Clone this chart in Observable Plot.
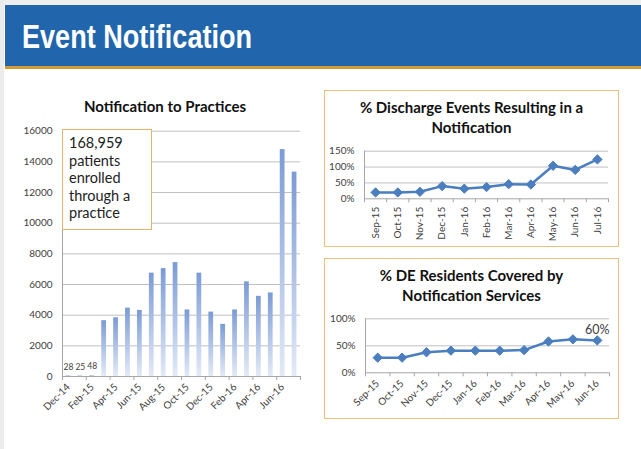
<!DOCTYPE html>
<html><head><meta charset="utf-8">
<script src="https://cdn.jsdelivr.net/npm/d3@7"></script>
<script src="https://cdn.jsdelivr.net/npm/@observablehq/plot@0.6"></script>
<style>
html,body{margin:0;padding:0;}
body{background:#fff;width:641px;height:449px;overflow:hidden;position:relative;font-family:Lato,"Liberation Sans",sans-serif;}
.abs{position:absolute;}
#stripL{left:0;top:0;width:4px;height:449px;background:#ececec;}
#stripT{left:0;top:0;width:641px;height:5px;background:#efefef;}
#header{left:5px;top:5px;width:636px;height:61px;background:#2166ac;}
#gold{left:5px;top:66px;width:636px;height:3px;background:#d09a35;}
#title{left:22px;top:20px;font-family:"Liberation Sans",sans-serif;font-weight:bold;font-size:33px;line-height:33px;color:#fff;white-space:nowrap;transform:scaleX(0.82);transform-origin:0 0;}
.ctitle{font-weight:bold;font-size:15px;line-height:19.5px;color:#111;text-align:center;white-space:nowrap;}
#t1{left:40px;top:97px;width:250px;}
.box{border:1.5px solid #e9c27a;box-sizing:border-box;background:#fff;}
#box2{left:324px;top:90px;width:295px;height:157px;}
#box3{left:324px;top:258px;width:295px;height:161px;}
#t2{left:324px;top:98px;width:295px;}
#t3{left:324px;top:266px;width:295px;}
#note{left:62px;top:129px;width:90px;height:101px;border:1px solid #e6b56a;box-sizing:border-box;background:#fff;padding:4px 0 0 6px;font-size:14.5px;line-height:17.5px;color:#222;}
</style></head><body>
<div class="abs" id="stripT"></div>
<div class="abs" id="stripL"></div>
<div class="abs" id="header"></div>
<div class="abs" id="gold"></div>
<div class="abs" id="title">Event Notification</div>
<div class="abs" id="c1"></div>
<div class="abs ctitle" id="t1">Notification to Practices</div>
<div class="abs" id="note">168,959<br>patients<br>enrolled<br>through a<br>practice</div>
<div class="abs box" id="box2"></div>
<div class="abs box" id="box3"></div>
<div class="abs ctitle" id="t2">% Discharge Events Resulting in a<br>Notification</div>
<div class="abs ctitle" id="t3">% DE Residents Covered by<br>Notification Services</div>
<div class="abs" id="c2"></div>
<div class="abs" id="c3"></div>
<script>
// ---- Data ----
const practiceMonths = ["Dec-14","Jan-15","Feb-15","Mar-15","Apr-15","May-15","Jun-15","Jul-15","Aug-15","Sep-15","Oct-15","Nov-15","Dec-15","Jan-16","Feb-16","Mar-16","Apr-16","May-16","Jun-16","Jul-16"];
const practiceCounts = [28,25,48,3640,3830,4460,4310,6740,7040,7430,4340,6740,4200,3400,4340,6170,5230,5450,14800,13330];
const practiceTickLabels = ["Dec-14","Feb-15","Apr-15","Jun-15","Aug-15","Oct-15","Dec-15","Feb-16","Apr-16","Jun-16"];
const practiceYTicks = [0,2000,4000,6000,8000,10000,12000,14000,16000];
const practiceLabelled = ["Dec-14","Jan-15","Feb-15"];

const dischargeMonths = ["Sep-15","Oct-15","Nov-15","Dec-15","Jan-16","Feb-16","Mar-16","Apr-16","May-16","Jun-16","Jul-16"];
const dischargePct = [20,20,22,40,32,37,46,45,104,91,124];
const dischargeYTicks = [0,50,100,150];

const residentMonths = ["Sep-15","Oct-15","Nov-15","Dec-15","Jan-16","Feb-16","Mar-16","Apr-16","May-16","Jun-16"];
const residentPct = [28,28,38,41,41,41,42,58,62,60];
const residentYTicks = [0,50,100];
const residentLabelled = ["Jun-16"];

const GRID = "#c0c0c0", AXIS = "#a6a6a6", TXT = "#404040", LINE = "#4a7ebf";

// ---- Left bar chart ----
{
  const W = 320, H = 320, ml = 62, mr = 20, mt = 10.7, mb = 64;
  const step = (W - ml - mr) / practiceMonths.length;
  const rows = practiceMonths.map((m, i) => ({month: m, count: practiceCounts[i]}));
  const defs = () => {
    const d = d3.create("svg:defs");
    const g = d.append("linearGradient").attr("id", "barGrad")
      .attr("x1", 0).attr("y1", 0).attr("x2", 0).attr("y2", 1);
    g.append("stop").attr("offset", "0%").attr("stop-color", "#7b9bd5");
    g.append("stop").attr("offset", "100%").attr("stop-color", "#e3eaf7");
    return d.node();
  };
  const chart = Plot.plot({
    width: W, height: H, marginLeft: ml, marginRight: mr, marginTop: mt, marginBottom: mb,
    style: {fontFamily: "Lato, sans-serif", fontSize: "10px", color: TXT, background: "transparent", overflow: "visible"},
    x: {type: "band", domain: practiceMonths, paddingInner: 0.6, paddingOuter: 0.3, round: false},
    y: {domain: [0, 16000]},
    marks: [
      defs,
      Plot.ruleY(practiceYTicks.filter(t => t > 0), {stroke: GRID}),
      Plot.barY(rows, {x: "month", y: "count", fill: "url(#barGrad)"}),
      Plot.ruleY([0], {stroke: AXIS}),
      Plot.frame({anchor: "left", stroke: AXIS}),
      Plot.ruleX(practiceTickLabels, {x: d => d, y1: 0, y2: 0, insetBottom: -4, dx: -step / 2, stroke: AXIS}),
      Plot.ruleX([practiceMonths[practiceMonths.length - 1]], {x: d => d, y1: 0, y2: 0, insetBottom: -4, dx: step / 2, stroke: AXIS}),
      Plot.text(rows.filter(r => practiceLabelled.includes(r.month)), {x: "month", y: "count", text: d => String(d.count), dy: -9, fontSize: 8.5, fill: TXT}),
      Plot.axisY({ticks: practiceYTicks, tickSize: 0, tickPadding: 10, tickFormat: d => String(d), label: null}),
      Plot.axisX({ticks: practiceTickLabels, tickSize: 0, tickRotate: -45, tickPadding: 9, label: null})
    ]
  });
  const el = document.getElementById("c1");
  el.style.left = "0px"; el.style.top = "120px";
  el.appendChild(chart);
}

// ---- Line chart helper ----
function lineChart({id, left, top, months, values, yTicks, W, H, ml, mr, mt, mb, rotate, pad, labelled}) {
  const step = (W - ml - mr) / months.length;
  const rows = months.map((m, i) => ({month: m, pct: values[i]}));
  const ymax = yTicks[yTicks.length - 1];
  const chart = Plot.plot({
    width: W, height: H, marginLeft: ml, marginRight: mr, marginTop: mt, marginBottom: mb,
    style: {fontFamily: "Lato, sans-serif", fontSize: "10px", color: TXT, background: "transparent", overflow: "visible"},
    x: {type: "band", domain: months, padding: 0, round: false},
    y: {domain: [0, ymax]},
    marks: [
      Plot.ruleY(yTicks.filter(t => t > 0), {stroke: GRID}),
      Plot.ruleY([0], {stroke: AXIS}),
      Plot.frame({anchor: "left", stroke: AXIS}),
      Plot.ruleX(months, {x: d => d, y1: 0, y2: 0, insetBottom: -4, dx: -step / 2, stroke: AXIS}),
      Plot.ruleX([months[months.length - 1]], {x: d => d, y1: 0, y2: 0, insetBottom: -4, dx: step / 2, stroke: AXIS}),
      Plot.line(rows, {x: "month", y: "pct", stroke: LINE, strokeWidth: 2.5}),
      Plot.dot(rows, {x: "month", y: "pct", symbol: "diamond2", r: 4.2, fill: LINE, stroke: LINE, strokeWidth: 1}),
      labelled ? Plot.text(rows.filter(r => labelled.includes(r.month)), {x: "month", y: "pct", text: d => d.pct + "%", dy: -10, fontSize: 12.5, fill: TXT}) : null,
      Plot.axisY({ticks: yTicks, tickSize: 0, tickPadding: 10, tickFormat: d => d + "%", label: null}),
      Plot.axisX({tickSize: 0, tickRotate: rotate, tickPadding: pad, label: null})
    ]
  });
  const el = document.getElementById(id);
  el.style.left = left + "px"; el.style.top = top + "px";
  el.appendChild(chart);
}

lineChart({id: "c2", left: 324, top: 140, months: dischargeMonths, values: dischargePct, yTicks: dischargeYTicks,
  W: 290, H: 105, ml: 40, mr: 6, mt: 10.7, mb: 46.7, rotate: -90, pad: 8});
lineChart({id: "c3", left: 324, top: 305, months: residentMonths, values: residentPct, yTicks: residentYTicks,
  W: 290, H: 110, ml: 41, mr: 5, mt: 13.3, mb: 42.7, rotate: -45, pad: 9, labelled: residentLabelled});
</script>
</body></html>
